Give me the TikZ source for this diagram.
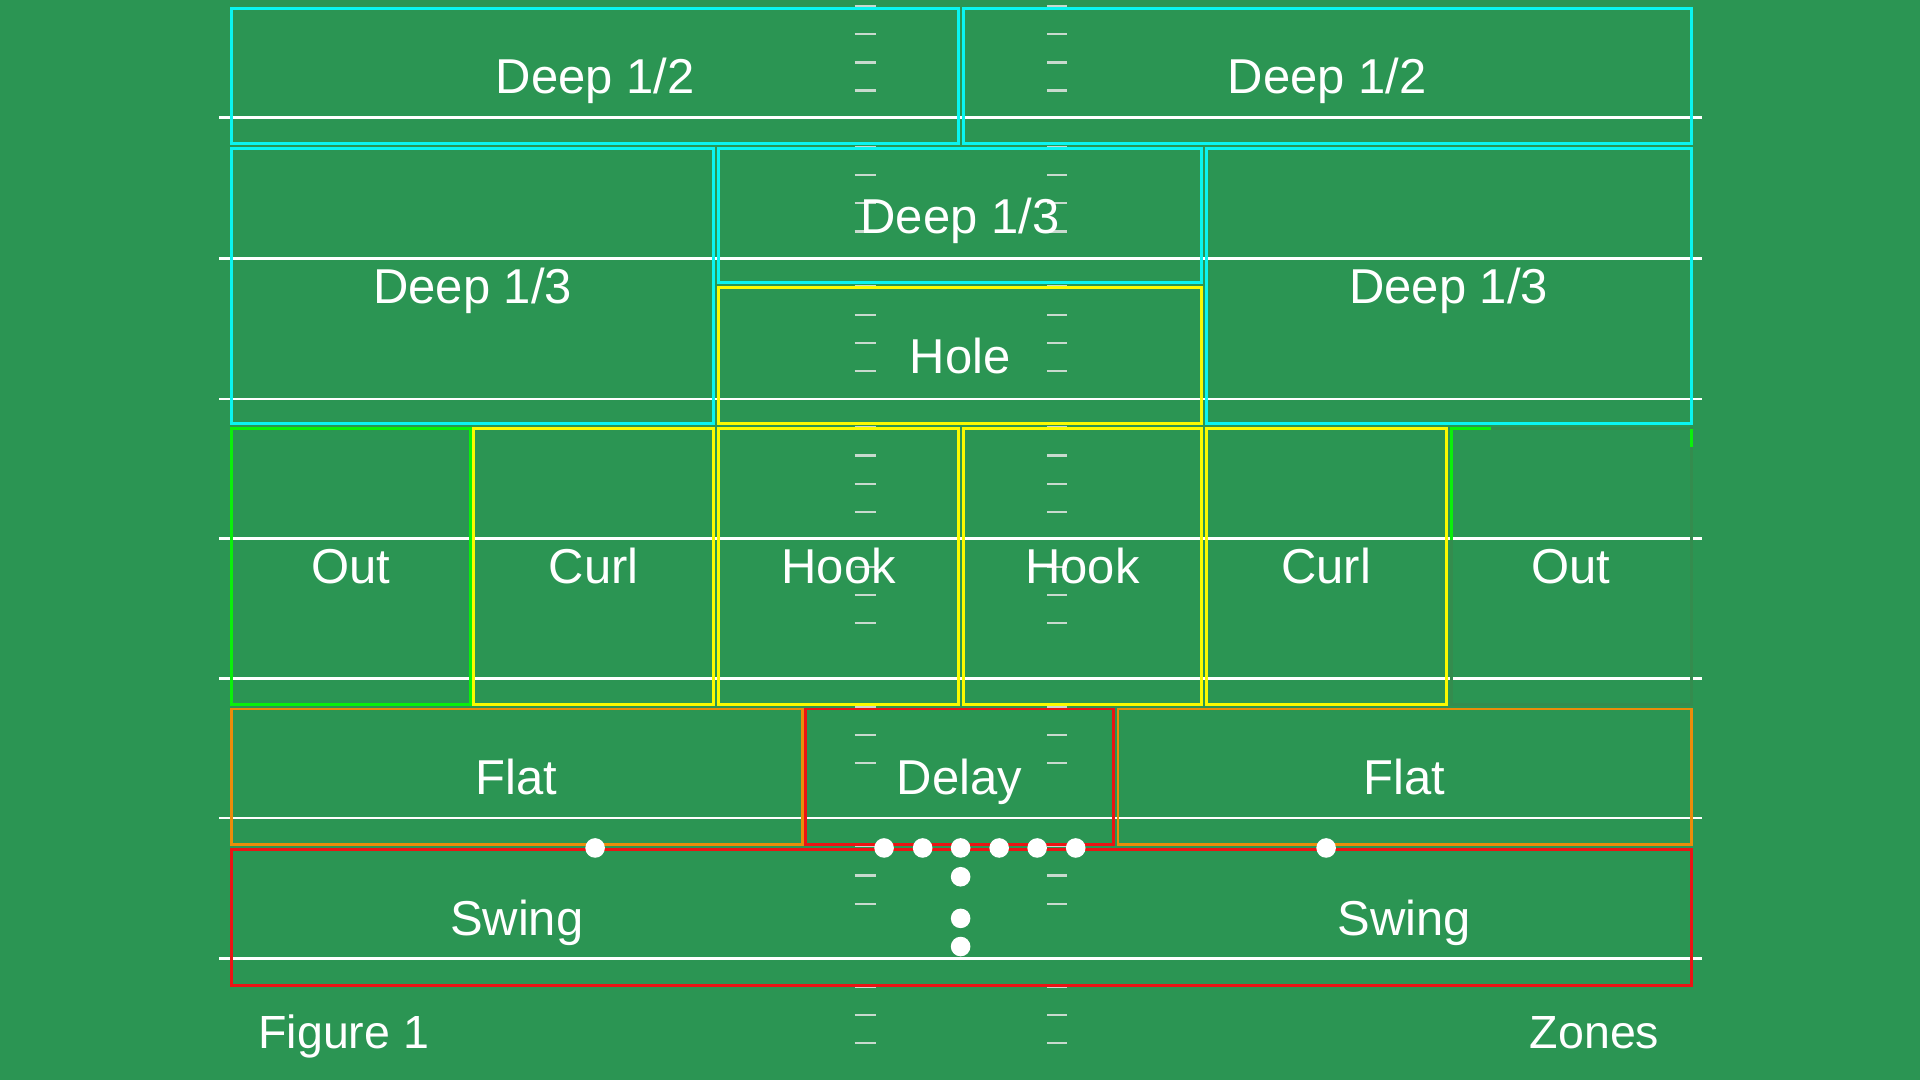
\documentclass[tikz,border=0pt]{standalone}
\usepackage{fontspec}
\setmainfont{Liberation Sans}
\definecolor{field}{RGB}{43,149,83}
\definecolor{zcyan}{RGB}{10,245,240}
\definecolor{zyellow}{RGB}{250,250,0}
\definecolor{zgreen}{RGB}{10,240,10}
\definecolor{zfade}{RGB}{52,140,78}
\definecolor{zorange}{RGB}{235,140,10}
\definecolor{zred}{RGB}{235,20,20}
\definecolor{tickc}{RGB}{200,218,206}
\begin{document}
\begin{tikzpicture}[x=1pt,y=-1pt,
  yardline/.style={draw=white,line width=2.1pt},
  hashtick/.style={draw=tickc,line width=1.9pt},
  zone/.style={rectangle,line width=2.4pt,inner sep=0pt,outer sep=0pt,
    text=white,font=\fontsize{40}{48}\selectfont,text height=28.6pt,text depth=0pt},
  lbl/.style={inner sep=0pt,outer sep=0pt,text=white,
    font=\fontsize{40}{48}\selectfont,text height=28.6pt,text depth=0pt},
  caption/.style={inner sep=0pt,outer sep=0pt,text=white,font=\fontsize{38}{46}\selectfont},
  dot/.style={circle,fill=white,inner sep=0pt,minimum size=16pt}]
\fill[field] (0,0) rectangle (1568,882);
\useasboundingbox (0,0) rectangle (1568,882);
% yard lines
\foreach \y in {96,211,326,440,554,668,783}{
  \draw[yardline] (179,\y) -- (1390,\y);
}
% hash ticks
\foreach \y in {5,28,51,74,120,143,166,189,234,257,280,303,349,372,395,418,463,486,509,577,600,623,691,715,738,806,829,852}{
  \draw[hashtick] (698,\y) -- (715,\y);
  \draw[hashtick] (855,\y) -- (871,\y);
}
% deep zones
\node[zone,draw=zcyan,minimum width=594pt,minimum height=110pt] (d12l) at (486,62) {Deep 1/2};
\node[zone,draw=zcyan,minimum width=594pt,minimum height=110pt] (d12r) at (1084,62) {Deep 1/2};
\node[zone,draw=zcyan,minimum width=394pt,minimum height=225pt] (d13l) at (386,233.5) {Deep 1/3};
\node[zone,draw=zcyan,minimum width=394pt,minimum height=110pt] (d13m) at (784,176) {Deep 1/3};
\node[zone,draw=zcyan,minimum width=396pt,minimum height=225pt] (d13r) at (1183,233.5) {Deep 1/3};
% underneath zones
\node[zone,draw=zyellow,minimum width=394pt,minimum height=111pt] (hole) at (784,290.5) {Hole};
\node[zone,draw=zgreen,minimum width=195pt,minimum height=225pt] (outl) at (286.5,462.5) {Out};
\node[zone,draw=zyellow,minimum width=196pt,minimum height=225pt] (curll) at (485,462.5) {Curl};
\node[zone,draw=zyellow,minimum width=196pt,minimum height=225pt] (hookl) at (685,462.5) {Hook};
\node[zone,draw=zyellow,minimum width=194pt,minimum height=225pt] (hookr) at (884,462.5) {Hook};
\node[zone,draw=zyellow,minimum width=196pt,minimum height=225pt] (curlr) at (1083,462.5) {Curl};
\node[zone,draw=zfade,minimum width=196pt,minimum height=225pt] (outr) at (1283,462.5) {Out};
\draw[zgreen,line width=2.4pt] (outr.south west |- 0,441) -- (outr.north west) -- ([xshift=33pt]outr.north west);
\draw[zgreen,line width=2.4pt] (outr.north east) -- ([yshift=-15pt]outr.north east);
% short zones
\node[zone,draw=zorange,minimum width=466pt,minimum height=111pt] (flatl) at (422,634.5) {Flat};
\node[zone,draw=zred,minimum width=251pt,minimum height=111pt] (delay) at (783.5,634.5) {Delay};
\node[zone,draw=zorange,minimum width=468pt,minimum height=111pt] (flatr) at (1147,634.5) {Flat};
\node[zone,draw=zred,minimum width=1192pt,minimum height=111pt] (swing) at (785,749.5) {};
\node[lbl] (swingl) at (422,749.5) {Swing};
\node[lbl] (swingr) at (1147,749.5) {Swing};
% players
\foreach \n/\x/\y in {wl/486/692.5,wr/1083/692.5,o1/722/692.5,o2/753.5/692.5,o3/784.5/692.5,o4/816/692.5,o5/847/692.5,o6/878.5/692.5,q/784.5/716,b1/784.5/750,b2/784.5/773}{
  \node[dot] (\n) at (\x,\y) {};
}
% captions
\node[caption,anchor=base west] (fig) at (211,856) {Figure 1};
\node[caption,anchor=base east] (zones) at (1355,856) {Zones};
\end{tikzpicture}
\end{document}
